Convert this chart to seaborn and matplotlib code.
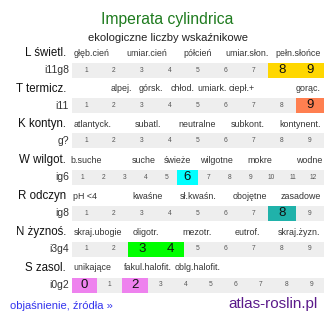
import matplotlib
matplotlib.use("Agg")
import matplotlib.pyplot as plt
from matplotlib.colors import ListedColormap
import numpy as np
import seaborn as sns

sns.set_theme(style="white")
plt.rcParams['font.family'] = ['Liberation Sans', 'DejaVu Sans']

# ---- data ----
title = "Imperata cylindrica"
subtitle = "ekologiczne liczby wskaźnikowe"
row_names = ["L świetl.", "T termicz.", "K kontyn.", "W wilgot.", "R odczyn", "N żyznoś.", "S zasol."]
row_codes = ["i11g8", "i11", "g?", "ig6", "ig8", "i3g4", "i0g2"]
row_scales = [list(range(1, 10)), list(range(1, 10)), list(range(1, 10)),
              list(range(1, 13)), list(range(1, 10)), list(range(1, 10)),
              list(range(0, 10))]
row_values = [[8, 9], [9], [], [6], [8], [3, 4], [0, 2]]
row_colors = ["#FFD700", "#FF7F50", "#EEEEEE", "#00FFFF", "#20B2AA", "#00FF00", "#EE82EE"]
cat_L = ["głęb.cień", "umiar.cień", "półcień", "umiar.słon.", "pełn.słońce"]
cat_T = ["alpej.", "górsk.", "chłod.", "umiark.", "ciepł.+", "gorąc."]
cat_K = ["atlantyck.", "subatl.", "neutralne", "subkont.", "kontynent."]
cat_W = ["b.suche", "suche", "świeże", "wilgotne", "mokre", "wodne"]
cat_R = ["pH <4", "kwaśne", "sł.kwaśn.", "obojętne", "zasadowe"]
cat_N = ["skraj.ubogie", "oligotr.", "mezotr.", "eutrof.", "skraj.żyzn."]
cat_S = ["unikające", "fakul.halofit.", "oblg.halofit."]
row_cats = [cat_L, cat_T, cat_K, cat_W, cat_R, cat_N, cat_S]
link_text = "objaśnienie, źródła »"
site_text = "atlas-roslin.pl"

# ---- layout (pixels) ----
W, H = 334, 322
bar_x0, bar_x1 = 72, 324
row_centers = [70, 105.5, 141, 177, 213, 249, 285]
bar_h = 15
cat_x = [[92, 147, 197.5, 247, 298.5],
         [121, 151, 182.5, 212, 242, 308],
         [93, 148, 197.5, 247.5, 300],
         [86, 144, 177, 216, 260, 309],
         [85, 148, 198, 250, 301],
         [98, 146, 197, 247, 299],
         [92, 148, 198]]
gray = "#EEEEEE"

fig = plt.figure(figsize=(W / 100, H / 100), dpi=100)
fig.patch.set_facecolor("white")
bg = fig.add_axes([0, 0, 1, 1])
bg.set_xlim(0, W)
bg.set_ylim(H, 0)
bg.axis("off")

bg.text(W / 2 + 0.5, 19.5, title, color="#1E7B1E", fontsize=11.3, ha="center", va="center")
bg.text(W / 2 + 0.5, 38, subtitle, color="#222222", fontsize=8.1, ha="center", va="center")

for name, code, scale, vals, col, cats, cx, yc in zip(
        row_names, row_codes, row_scales, row_values, row_colors, row_cats, cat_x, row_centers):
    ax = fig.add_axes([bar_x0 / W, 1 - (yc + bar_h / 2) / H,
                       (bar_x1 - bar_x0) / W, bar_h / H])
    mask = np.array([[1 if s in vals else 0 for s in scale]])
    sns.heatmap(mask, ax=ax, cmap=ListedColormap([gray, col]), vmin=0, vmax=1,
                cbar=False, xticklabels=False, yticklabels=False, linewidths=0)
    for i, s in enumerate(scale):
        if s in vals:
            ax.text(i + 0.5, 0.5, str(s), ha="center", va="center",
                    fontsize=9.5, color="#111111")
        else:
            ax.text(i + 0.5, 0.5, str(s), ha="center", va="center",
                    fontsize=4.8, color="#555555")
    ax.axis("off")
    bg.text(66, yc - 17, name, ha="right", va="center", fontsize=8.3, color="#111111")
    bg.text(69, yc, code, ha="right", va="center", fontsize=7.5, color="#333333")
    for c, x in zip(cats, cx):
        bg.text(x, yc - 17, c, ha="center", va="center", fontsize=6.4, color="#333333")

bg.text(10, 306, link_text, ha="left", va="center", fontsize=8, color="#3333EE")
bg.text(318, 304, site_text, ha="right", va="center", fontsize=11, color="#5B1A8B")

fig.savefig("out.png", dpi=100, facecolor="white")
